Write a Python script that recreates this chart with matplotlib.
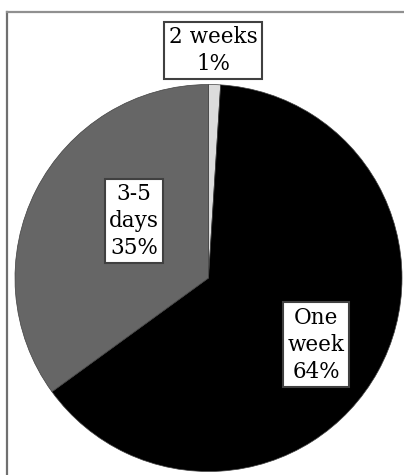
import matplotlib.pyplot as plt
from matplotlib.lines import Line2D

# data
labels = ["2 weeks", "One\nweek", "3-5\ndays"]
values = [1, 64, 35]
colors = ["#dcdcdc", "#000000", "#666666"]
label_pos = [(0.023, 1.175), (0.556, -0.345), (-0.385, 0.295)]

fig = plt.figure(figsize=(4.04, 4.75), dpi=100)
ax = fig.add_axes([15 / 404, 3.5 / 475, 387 / 404, 387 / 475])

ax.pie(values, colors=colors, startangle=90, counterclock=False, radius=1,
       wedgeprops=dict(edgecolor="#404040", linewidth=0.5))
ax.set_xlim(-1, 1)
ax.set_ylim(-1, 1)
ax.set_aspect("equal")
ax.axis("off")

for lab, val, (x, y) in zip(labels, values, label_pos):
    ax.text(x, y, f"{lab}\n{val}%", ha="center", va="center", fontsize=15.5,
            family="DejaVu Serif", linespacing=1.3, clip_on=False,
            bbox=dict(boxstyle="square,pad=0.2", fc="white", ec="#404040", lw=1.5))

# frame lines (left + top)
fig.add_artist(Line2D([7 / 404, 7 / 404], [0, 1 - 12 / 475], color="#707070", lw=1.6))
fig.add_artist(Line2D([7 / 404, 1], [1 - 12 / 475, 1 - 12 / 475], color="#909090", lw=1.6))

fig.savefig("out.png", dpi=100)
